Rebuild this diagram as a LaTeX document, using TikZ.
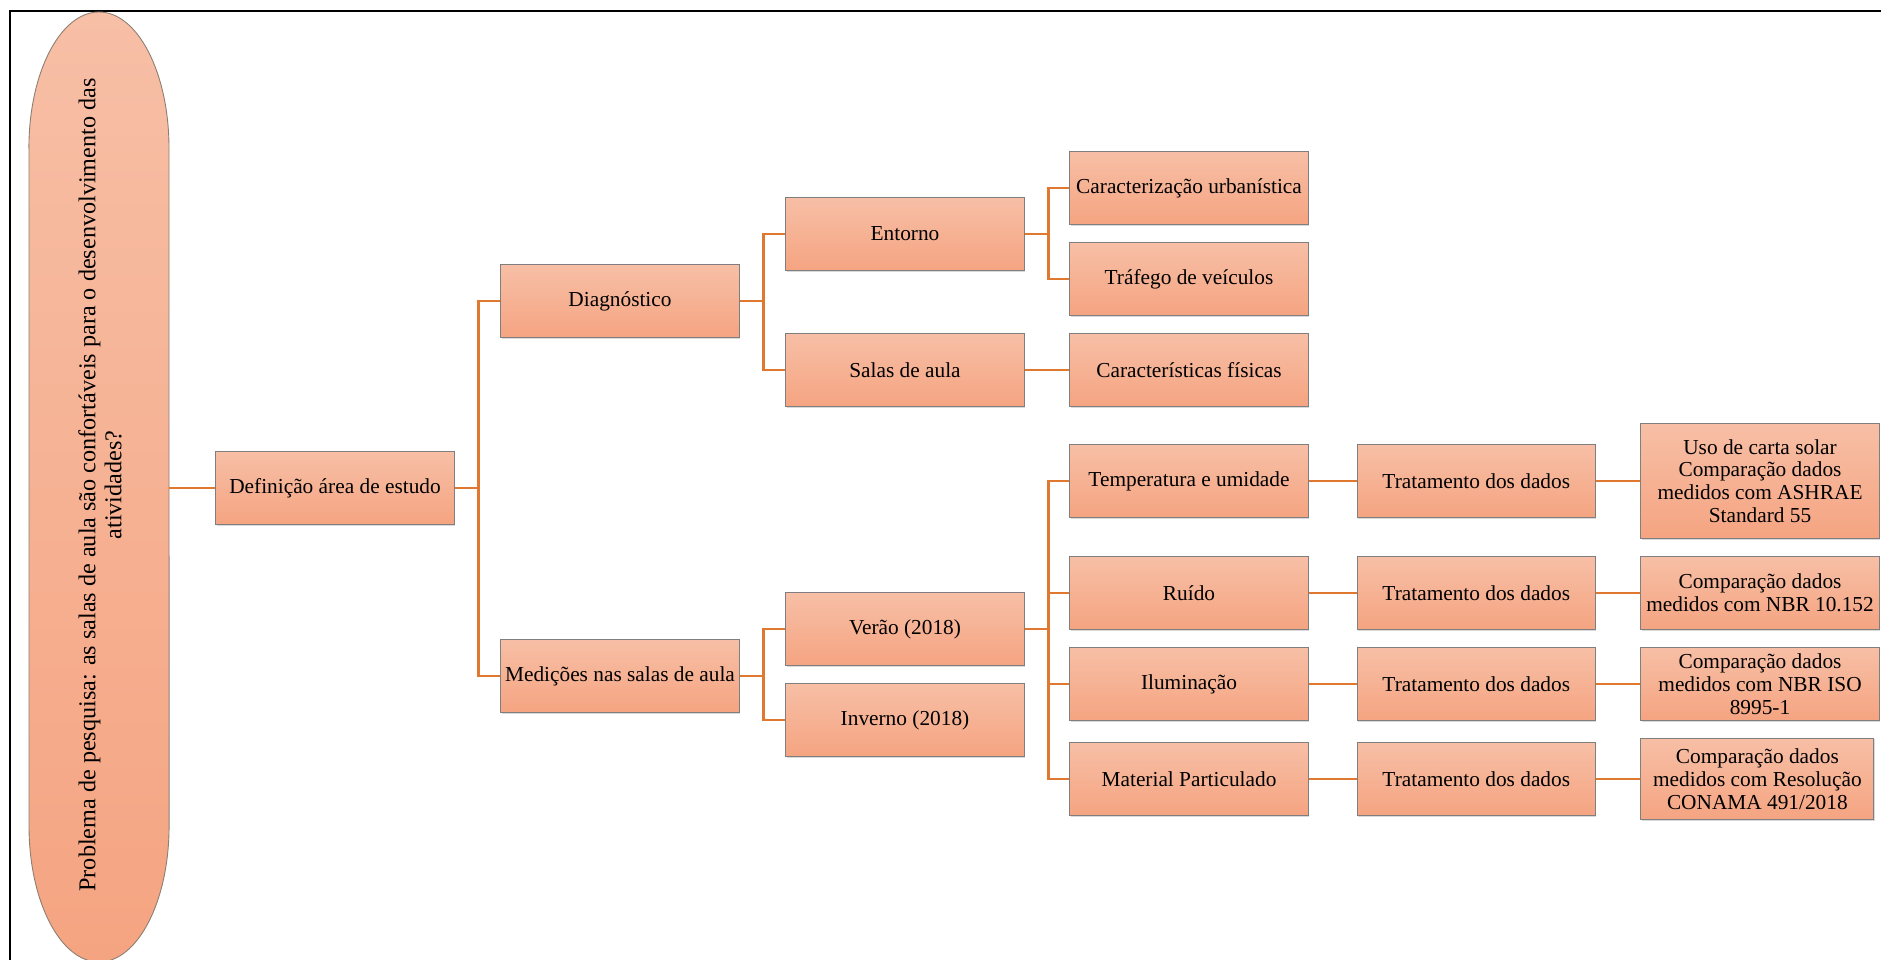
\documentclass[tikz,border=0pt]{standalone}
\usepackage{fontspec}
\setmainfont{Liberation Serif}
\usetikzlibrary{positioning,calc,shadows}
\definecolor{salmontop}{HTML}{F7BFA6}
\definecolor{salmonbot}{HTML}{F5A481}
\definecolor{linkorange}{HTML}{E0782F}
\definecolor{boxgray}{HTML}{7F7F7F}

\begin{document}
\begin{tikzpicture}[
  x=0.5625pt, y=-0.5625pt,
  font=\fontsize{12}{12.8}\selectfont,
  box/.style={draw=boxgray, line width=0.6pt, top color=salmontop, bottom color=salmonbot,
    minimum width=134pt, minimum height=41pt, align=center, inner sep=1pt,
    drop shadow={shadow xshift=0.6pt, shadow yshift=-0.6pt, opacity=0.3}},
  pill/.style={draw=boxgray!80!brown, line width=0.5pt, top color=salmontop, bottom color=salmonbot},
  link/.style={draw=linkorange, line width=1.4pt}]
\useasboundingbox (0,0) rectangle (1881,960);
\clip (0,0) rectangle (1881,960);
\draw[line width=1.1pt] (10,960) -- (10,11) -- (1881,11);
% research question
\path[pill] (29,148) -- (29,826) arc[start angle=180, end angle=360, x radius=39.4pt, y radius=76.5pt]
  -- (169,148) arc[start angle=0, end angle=180, x radius=39.4pt, y radius=76.5pt] -- cycle;
\node[rotate=90, align=center, font=\fontsize{13.6}{14.6}\selectfont] (prob) at (100,485)
  {Problema de pesquisa: as salas de aula são confortáveis para o desenvolvimento das\\ atividades?};
\coordinate (probedge) at (169,488);
% tree
\node[box] (def) at (335,488) {Definição área de estudo};
\node[box] (diag) at (620,301) {Diagnóstico};
\node[box] (med) at (620,676) {Medições nas salas de aula};
\node[box] (ent) at (905,234) {Entorno};
\node[box] (salas) at (905,370) {Salas de aula};
\node[box] (ver) at (905,629) {Verão (2018)};
\node[box] (inv) at (905,720) {Inverno (2018)};
\node[box] (urb) at (1189,188) {Caracterização urbanística};
\node[box] (traf) at (1189,279) {Tráfego de veículos};
\node[box] (fis) at (1189,370) {Características físicas};
\node[box] (temp) at (1189,481) {Temperatura e umidade};
\node[box] (ruido) at (1189,593) {Ruído};
\node[box] (ilum) at (1189,684) {Iluminação};
\node[box] (mat) at (1189,779) {Material Particulado};
% data treatment
\node[box, right=27pt of temp] (trat1) {Tratamento dos dados};
\node[box, right=27pt of ruido] (trat2) {Tratamento dos dados};
\node[box, right=27pt of ilum] (trat3) {Tratamento dos dados};
\node[box, right=27pt of mat] (trat4) {Tratamento dos dados};
\node[box, right=25pt of trat1, minimum height=65pt] (ashrae) {Uso de carta solar\\ Comparação dados\\
  medidos com ASHRAE\\ Standard 55};
\node[box, right=25pt of trat2] (nbr) {Comparação dados\\ medidos com NBR 10.152};
\node[box, right=25pt of trat3] (iso) {Comparação dados\\ medidos com NBR ISO\\ 8995-1};
\node[box, right=25pt of trat4, minimum width=131pt, minimum height=46pt] (conama) {Comparação dados\\
  medidos com Resolução\\ CONAMA 491/2018};
% connectors
\draw[link] (probedge) -- (def.west);
\draw[link] (def.east) -- ++(24,0) |- (diag.west);
\draw[link] (def.east) -- ++(24,0) |- (med.west);
\draw[link] (diag.east) -- ++(24,0) |- (ent.west);
\draw[link] (diag.east) -- ++(24,0) |- (salas.west);
\draw[link] (med.east) -- ++(24,0) |- (ver.west);
\draw[link] (med.east) -- ++(24,0) |- (inv.west);
\draw[link] (ent.east) -- ++(24,0) |- (urb.west);
\draw[link] (ent.east) -- ++(24,0) |- (traf.west);
\draw[link] (salas) -- (fis);
\draw[link] (ver.east) -- ++(24,0) |- (temp.west);
\draw[link] (ver.east) -- ++(24,0) |- (ruido.west);
\draw[link] (ver.east) -- ++(24,0) |- (ilum.west);
\draw[link] (ver.east) -- ++(24,0) |- (mat.west);
\draw[link] (temp) -- (trat1);
\draw[link] (ruido) -- (trat2);
\draw[link] (ilum) -- (trat3);
\draw[link] (mat) -- (trat4);
\draw[link] (trat1) -- (ashrae);
\draw[link] (trat2) -- (nbr);
\draw[link] (trat3) -- (iso);
\draw[link] (trat4) -- (conama);
\end{tikzpicture}
\end{document}
